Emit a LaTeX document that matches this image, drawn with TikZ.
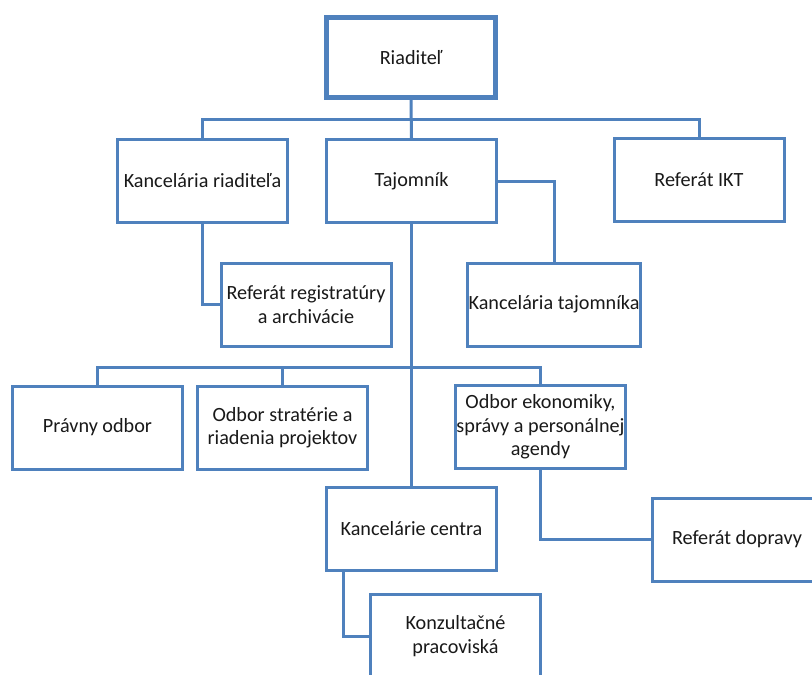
\documentclass[tikz,border=0pt]{standalone}
\usepackage{fontspec}
\setmainfont{Carlito}
\definecolor{ob}{HTML}{4F81BD}
\begin{document}
\begin{tikzpicture}[x=1pt,y=-1pt,
  box/.style={draw=ob,line width=3pt,fill=white,minimum width=170pt,minimum height=83pt,
    align=center,inner sep=1pt,font=\fontsize{20.2}{23.5}\selectfont,text=black!90},
  topbox/.style={box,line width=5pt,minimum width=169pt,minimum height=80pt},
  conn/.style={draw=ob,line width=3pt}]
\clip (0,0) rectangle (812,675);
\fill[white] (0,0) rectangle (812,675);
\node[topbox] (ri) at (411,57.5) {Riaditeľ};
\node[box] (kr) at (202.5,180.5) {Kancelária riaditeľa};
\node[box] (ta) at (411.5,181) {Tajomník};
\node[box] (ikt) at (699,180) {Referát IKT};
\node[box] (reg) at (306,304.5) {Referát registratúry\\a archivácie};
\node[box] (kt) at (554,304.5) {Kancelária tajomníka};
\node[box] (pr) at (97.5,427.5) {Právny odbor};
\node[box] (os) at (282.5,427.5) {Odbor stratérie a\\riadenia projektov};
\node[box] (oe) at (540.5,427) {Odbor ekonomiky,\\správy a personálnej\\agendy};
\node[box] (kc) at (411.5,528.5) {Kancelárie centra};
\node[box] (rd) at (737,539.5) {Referát dopravy};
\node[box] (kz) at (455.5,636) {Konzultačné\\pracoviská};
\coordinate (b1) at (411.5,119);
\coordinate (b2) at (411.5,367);
\draw[conn] (ri.south) -- (ta.north);
\draw[conn] (kr.north) |- (b1) -| (ikt.north);
\draw[conn] (kr.south) |- (reg.west);
\draw[conn] (ta.east) -| (kt.north);
\draw[conn] (ta.south) -- (kc.north);
\draw[conn] (pr.north) |- (b2) -| (oe.north);
\draw[conn] (os.north) -- (os.north |- b2);
\draw[conn] (oe.south) |- (rd.west);
\draw[conn] ([xshift=-68.5pt]kc.south) |- (kz.west);
\end{tikzpicture}
\end{document}
